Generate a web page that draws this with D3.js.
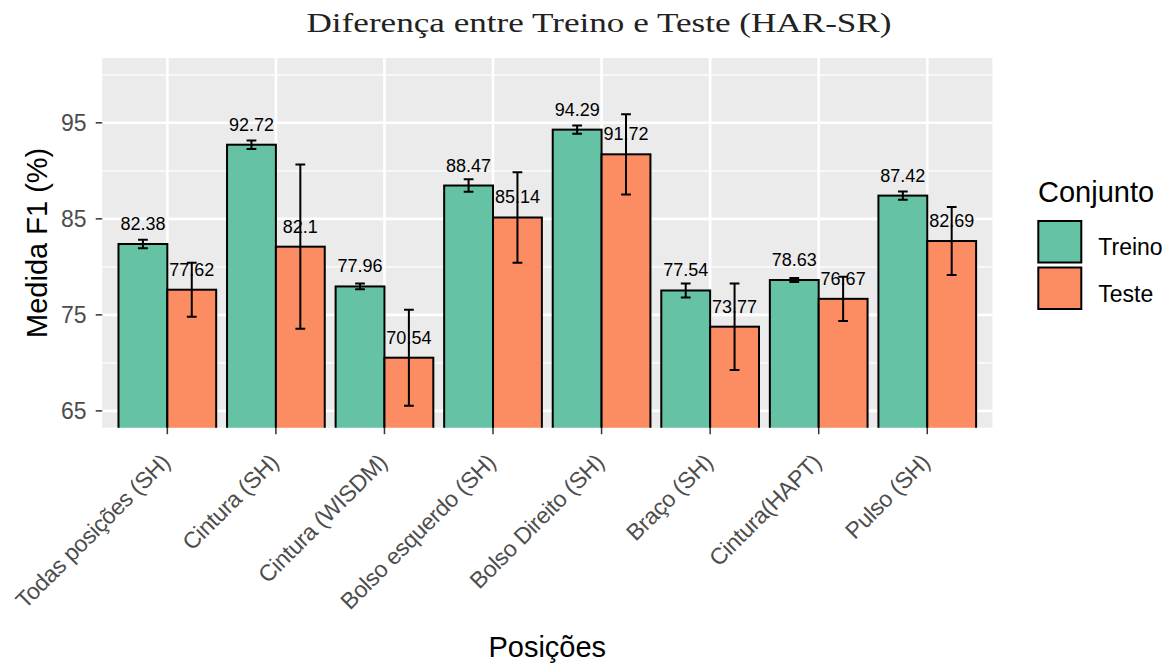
<!DOCTYPE html>
<html>
<head>
<meta charset="utf-8">
<script src="https://cdn.jsdelivr.net/npm/d3@7"></script>
<style>
  html, body { margin: 0; padding: 0; background: #fff; }
  svg { display: block; }
</style>
</head>
<body>
<svg id="chart" width="1175" height="664"></svg>
<script>
// ---- data ----
const categories = ["Todas posições (SH)", "Cintura (SH)", "Cintura (WISDM)", "Bolso esquerdo (SH)",
                    "Bolso Direito (SH)", "Braço (SH)", "Cintura(HAPT)", "Pulso (SH)"];
const seriesNames = ["Treino", "Teste"];
const treino = [82.38, 92.72, 77.96, 88.47, 94.29, 77.54, 78.63, 87.42];
const teste  = [77.62, 82.1, 70.54, 85.14, 91.72, 73.77, 76.67, 82.69];
const treinoErr = [0.43, 0.44, 0.3, 0.65, 0.43, 0.73, 0.2, 0.43];
const testeErr  = [2.82, 8.55, 5.0, 4.7, 4.18, 4.5, 2.3, 3.55];
const yTicks = [65, 75, 85, 95];
const yMinor = [70, 80, 90, 100];
const yLimits = [65, 100];

const colors = ["#66C2A5", "#FC8D62"];

// ---- layout ----
const svg = d3.select("#chart");
const P = { left: 102.2, right: 992.4, top: 58, bottom: 427.7 };
const expand = (yLimits[1] - yLimits[0]) * 0.05;

// ggplot discrete axis: 0.6 expansion on each side
const step = (P.right - P.left) / (categories.length + 0.2);
const xCenter = d3.scalePoint().domain(categories)
  .range([P.left + 0.6 * step, P.right - 0.6 * step]);
const xSub = d3.scaleBand().domain(seriesNames).range([-0.45 * step, 0.45 * step]).padding(0);
const y = d3.scaleLinear().domain([yLimits[0] - expand, yLimits[1] + expand]).range([P.bottom, P.top]);

const rows = [];
categories.forEach((c, i) => {
  rows.push({ cat: c, s: "Treino", v: treino[i], e: treinoErr[i], col: colors[0] });
  rows.push({ cat: c, s: "Teste", v: teste[i], e: testeErr[i], col: colors[1] });
});

// panel background
svg.append("rect").attr("x", P.left).attr("y", P.top)
  .attr("width", P.right - P.left).attr("height", P.bottom - P.top).attr("fill", "#EBEBEB");

// clip
svg.append("defs").append("clipPath").attr("id", "panelClip")
  .append("rect").attr("x", P.left).attr("y", P.top)
  .attr("width", P.right - P.left).attr("height", P.bottom - P.top);

const grid = svg.append("g");
grid.selectAll("line.minor").data(yMinor).enter().append("line")
  .attr("x1", P.left).attr("x2", P.right)
  .attr("y1", d => y(d)).attr("y2", d => y(d))
  .attr("stroke", "#fff").attr("stroke-width", 1.3);
grid.selectAll("line.major").data(yTicks).enter().append("line")
  .attr("x1", P.left).attr("x2", P.right)
  .attr("y1", d => y(d)).attr("y2", d => y(d))
  .attr("stroke", "#fff").attr("stroke-width", 2.6);
grid.selectAll("line.vmaj").data(categories).enter().append("line")
  .attr("x1", d => xCenter(d)).attr("x2", d => xCenter(d))
  .attr("y1", P.top).attr("y2", P.bottom)
  .attr("stroke", "#fff").attr("stroke-width", 2.6);

const plot = svg.append("g").attr("clip-path", "url(#panelClip)");

// bars
plot.selectAll("rect.bar").data(rows).enter().append("rect")
  .attr("x", d => xCenter(d.cat) + xSub(d.s))
  .attr("width", xSub.bandwidth())
  .attr("y", d => y(d.v))
  .attr("height", d => P.bottom + 10 - y(d.v))
  .attr("fill", d => d.col)
  .attr("stroke", "#000").attr("stroke-width", 2);

// error bars
const capW = xSub.bandwidth() * 0.2;
const mid = d => xCenter(d.cat) + xSub(d.s) + xSub.bandwidth() / 2;
const eb = plot.selectAll("g.eb").data(rows).enter().append("g")
  .attr("stroke", "#000").attr("stroke-width", 2);
eb.append("line")
  .attr("x1", mid).attr("x2", mid)
  .attr("y1", d => y(d.v + d.e)).attr("y2", d => y(d.v - d.e));
eb.append("line")
  .attr("x1", d => mid(d) - capW / 2).attr("x2", d => mid(d) + capW / 2)
  .attr("y1", d => y(d.v + d.e)).attr("y2", d => y(d.v + d.e));
eb.append("line")
  .attr("x1", d => mid(d) - capW / 2).attr("x2", d => mid(d) + capW / 2)
  .attr("y1", d => y(d.v - d.e)).attr("y2", d => y(d.v - d.e));

// value labels
svg.selectAll("text.val").data(rows).enter().append("text")
  .attr("x", mid)
  .attr("y", d => y(d.v) - 14)
  .attr("text-anchor", "middle")
  .attr("font-family", "Liberation Sans, Arial, sans-serif")
  .attr("font-size", 18).attr("fill", "#000")
  .text(d => String(d.v));

// y axis
const yAxis = svg.append("g");
yAxis.selectAll("line").data(yTicks).enter().append("line")
  .attr("x1", P.left - 6.5).attr("x2", P.left)
  .attr("y1", d => y(d)).attr("y2", d => y(d))
  .attr("stroke", "#333").attr("stroke-width", 1.5);
yAxis.selectAll("text").data(yTicks).enter().append("text")
  .attr("x", 86.5).attr("y", d => y(d)).attr("dy", "0.36em")
  .attr("text-anchor", "end")
  .attr("font-family", "Liberation Sans, Arial, sans-serif")
  .attr("font-size", 23).attr("fill", "#4D4D4D")
  .text(d => d);

// x axis
const xAxis = svg.append("g");
xAxis.selectAll("line").data(categories).enter().append("line")
  .attr("x1", d => xCenter(d)).attr("x2", d => xCenter(d))
  .attr("y1", P.bottom).attr("y2", P.bottom + 6.5)
  .attr("stroke", "#333").attr("stroke-width", 1.5);
xAxis.selectAll("text").data(categories).enter().append("text")
  .attr("transform", d => `translate(${xCenter(d) + 4},${P.bottom + 36}) rotate(-45)`)
  .attr("text-anchor", "end")
  .attr("font-family", "Liberation Sans, Arial, sans-serif")
  .attr("font-size", 23).attr("fill", "#4D4D4D")
  .attr("letter-spacing", -0.3)
  .text(d => d);

// axis titles
svg.append("text")
  .attr("transform", `translate(47,${(P.top + P.bottom) / 2}) rotate(-90)`)
  .attr("text-anchor", "middle")
  .attr("font-family", "Liberation Sans, Arial, sans-serif")
  .attr("font-size", 29).attr("fill", "#000")
  .text("Medida F1 (%)");
svg.append("text")
  .attr("x", (P.left + P.right) / 2).attr("y", 657)
  .attr("text-anchor", "middle")
  .attr("font-family", "Liberation Sans, Arial, sans-serif")
  .attr("font-size", 29).attr("fill", "#000")
  .text("Posições");

// title
svg.append("text")
  .attr("x", 306.5).attr("y", 32)
  .attr("font-family", "Liberation Serif, Times New Roman, serif")
  .attr("font-size", 27).attr("fill", "#222")
  .attr("textLength", 585).attr("lengthAdjust", "spacingAndGlyphs")
  .text("Diferença entre Treino e Teste (HAR-SR)");

// legend
const lg = svg.append("g");
lg.append("text").attr("x", 1038).attr("y", 202)
  .attr("font-family", "Liberation Sans, Arial, sans-serif")
  .attr("font-size", 29).attr("fill", "#000").text("Conjunto");
const keyY = [221, 267.5];
seriesNames.forEach((s, i) => {
  lg.append("rect").attr("x", 1038.3).attr("y", keyY[i]).attr("width", 43).attr("height", 41.5)
    .attr("fill", colors[i]).attr("stroke", "#000").attr("stroke-width", 2);
  lg.append("text").attr("x", 1098.3).attr("y", keyY[i] + 34)
    .attr("font-family", "Liberation Sans, Arial, sans-serif")
    .attr("font-size", 23).attr("fill", "#000").text(s);
});
</script>
</body>
</html>
